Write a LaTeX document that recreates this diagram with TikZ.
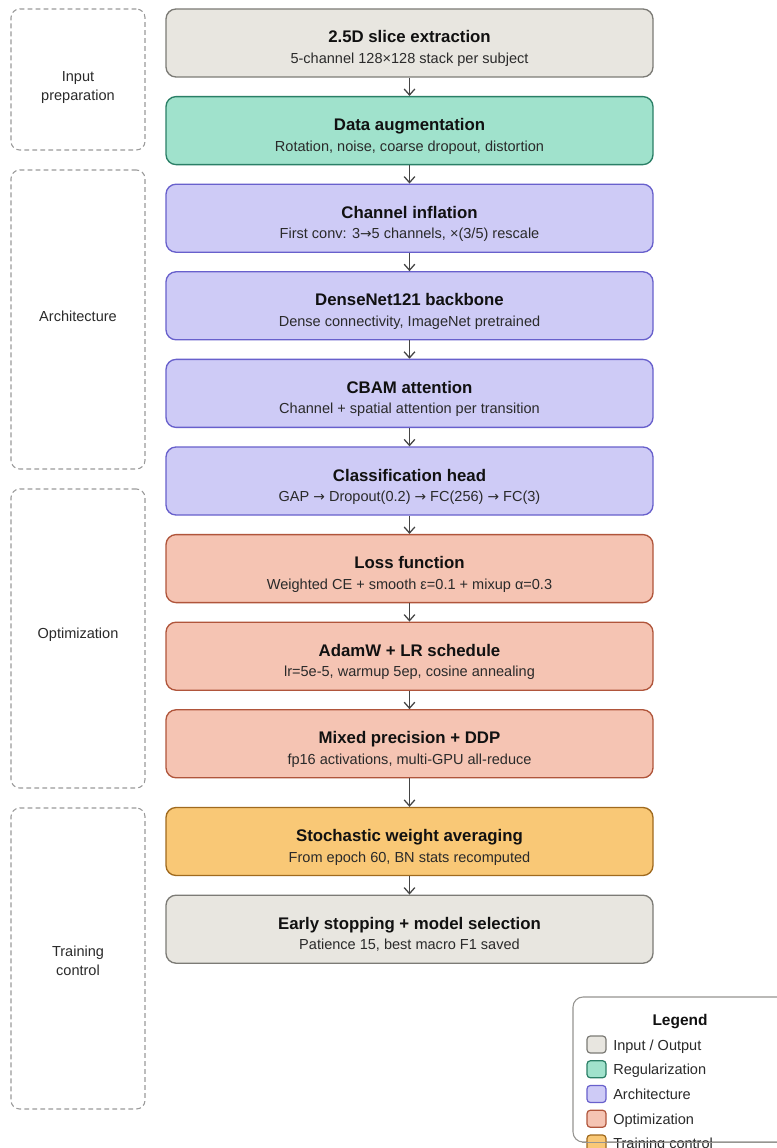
\documentclass[tikz,border=0pt]{standalone}
\usepackage{fontspec}
\setmainfont{Liberation Sans}
\newfontfamily\arrowfont{DejaVu Sans}[Scale=0.95]
\newcommand{\rarr}{{\arrowfont →}}
\usetikzlibrary{arrows.meta}
\definecolor{ioFill}{HTML}{E8E6E0}
\definecolor{ioDraw}{HTML}{7C7B76}
\definecolor{regFill}{HTML}{A0E2CC}
\definecolor{regDraw}{HTML}{2A7F66}
\definecolor{archFill}{HTML}{CECBF6}
\definecolor{archDraw}{HTML}{6860CC}
\definecolor{optFill}{HTML}{F5C4B3}
\definecolor{optDraw}{HTML}{B0553B}
\definecolor{trFill}{HTML}{F9C876}
\definecolor{trDraw}{HTML}{A06A1E}
\definecolor{arrowCol}{HTML}{444444}
\definecolor{grpCol}{HTML}{9A9A9A}
\definecolor{ttlCol}{HTML}{111111}
\definecolor{subCol}{HTML}{2A2A2A}
\tikzset{
  stagebox/.style={draw, rounded corners=7.5pt, line width=1pt,
    minimum width=365.25pt, minimum height=51pt, inner sep=0pt},
  io/.style={stagebox, fill=ioFill, draw=ioDraw},
  reg/.style={stagebox, fill=regFill, draw=regDraw},
  arch/.style={stagebox, fill=archFill, draw=archDraw},
  opt/.style={stagebox, fill=optFill, draw=optDraw},
  trn/.style={stagebox, fill=trFill, draw=trDraw},
  ttl/.style={anchor=base, inner sep=0pt, text=ttlCol, font=\fontsize{12.6pt}{14pt}\selectfont\bfseries},
  sub/.style={anchor=base, inner sep=0pt, text=subCol, font=\fontsize{10.9pt}{13pt}\selectfont},
  arr/.style={draw=arrowCol, line width=0.95pt, -{Straight Barb[length=4.5pt,width=8pt,line width=0.95pt]}},
  grp/.style={draw=grpCol, dashed, dash pattern=on 3.6pt off 2.4pt, line width=0.8pt, rounded corners=6.5pt,
    minimum width=100.5pt, inner sep=0pt},
  grplabel/.style={align=center, inner sep=0pt, text=subCol, font=\fontsize{10.9pt}{14.6pt}\selectfont},
  legbox/.style={draw=ioDraw!80, fill=white, line width=0.8pt, rounded corners=7.5pt, inner sep=0pt},
  swatch/.style={draw, line width=0.9pt, rounded corners=2.5pt, minimum width=14.25pt, minimum height=12.75pt, inner sep=0pt},
  legtext/.style={anchor=base west, inner sep=0pt, text=subCol, font=\fontsize{10.9pt}{13pt}\selectfont},
}
\begin{document}
\begin{tikzpicture}[x=0.75pt,y=-0.75pt]
\clip (0,0) rectangle (777,1148);
\fill[white] (0,0) rectangle (777,1148);

% group boxes
\node[grp, minimum height=105.75pt] (g1) at (78,79.5) {};
\node[grp, minimum height=224.25pt] (g2) at (78,319.5) {};
\node[grp, minimum height=224.25pt] (g3) at (78,638.5) {};
\node[grp, minimum height=225.75pt] (g4) at (78,958.5) {};
\node[grplabel] (l1) at (78,87.5) {Input\\preparation};
\node[grplabel] (l2) at (78,316) {Architecture};
\node[grplabel] (l3) at (78,635) {Optimization};
\node[grplabel] (l4) at (78,961) {Training\\control};

% stages
\node[io]   (b1)  at (409.5,43)    {};
\node[reg]  (b2)  at (409.5,130.6) {};
\node[arch] (b3)  at (409.5,218.2) {};
\node[arch] (b4)  at (409.5,305.8) {};
\node[arch] (b5)  at (409.5,393.4) {};
\node[arch] (b6)  at (409.5,481)   {};
\node[opt]  (b7)  at (409.5,568.6) {};
\node[opt]  (b8)  at (409.5,656.2) {};
\node[opt]  (b9)  at (409.5,743.8) {};
\node[trn]  (b10) at (409.5,841.5) {};
\node[io]   (b11) at (409.5,929.2) {};

\node[ttl] (t1) at (409.5,43)    {2.5D slice extraction};
\node[sub] (s1) at (409.5,63.5)  {5-channel 128×128 stack per subject};
\node[ttl] (t2) at (409.5,130.6) {Data augmentation};
\node[sub] (s2) at (409.5,151.1) {Rotation, noise, coarse dropout, distortion};
\node[ttl] (t3) at (409.5,218.2) {Channel inflation};
\node[sub] (s3) at (409.5,238.7) {First conv: 3\rarr5 channels, ×(3/5) rescale};
\node[ttl] (t4) at (409.5,305.8) {DenseNet121 backbone};
\node[sub] (s4) at (409.5,326.3) {Dense connectivity, ImageNet pretrained};
\node[ttl] (t5) at (409.5,393.4) {CBAM attention};
\node[sub] (s5) at (409.5,413.9) {Channel + spatial attention per transition};
\node[ttl] (t6) at (409.5,481)   {Classification head};
\node[sub] (s6) at (409.5,501.5) {GAP \rarr{} Dropout(0.2) \rarr{} FC(256) \rarr{} FC(3)};
\node[ttl] (t7) at (409.5,568.6) {Loss function};
\node[sub] (s7) at (409.5,589.1) {Weighted CE + smooth ε=0.1 + mixup α=0.3};
\node[ttl] (t8) at (409.5,656.2) {AdamW + LR schedule};
\node[sub] (s8) at (409.5,676.7) {lr=5e-5, warmup 5ep, cosine annealing};
\node[ttl] (t9) at (409.5,743.8) {Mixed precision + DDP};
\node[sub] (s9) at (409.5,764.3) {fp16 activations, multi-GPU all-reduce};
\node[ttl] (t10) at (409.5,841.5) {Stochastic weight averaging};
\node[sub] (s10) at (409.5,862)  {From epoch 60, BN stats recomputed};
\node[ttl] (t11) at (409.5,929.2) {Early stopping + model selection};
\node[sub] (s11) at (409.5,949.7) {Patience 15, best macro F1 saved};

% connectors
\draw[arr] (b1.south) -- (b2.north);
\draw[arr] (b2.south) -- (b3.north);
\draw[arr] (b3.south) -- (b4.north);
\draw[arr] (b4.south) -- (b5.north);
\draw[arr] (b5.south) -- (b6.north);
\draw[arr] (b6.south) -- (b7.north);
\draw[arr] (b7.south) -- (b8.north);
\draw[arr] (b8.south) -- (b9.north);
\draw[arr] (b9.south) -- (b10.north);
\draw[arr] (b10.south) -- (b11.north);

% legend
\node[legbox, minimum width=170.25pt, minimum height=108.75pt] (leg) at (686.5,1069.5) {};
\node[anchor=base, inner sep=0pt, text=ttlCol, font=\fontsize{11.6pt}{14pt}\selectfont\bfseries] (legt) at (680,1025) {Legend};
\node[swatch, fill=ioFill, draw=ioDraw]     (w1) at (596.5,1044.5) {};
\node[swatch, fill=regFill, draw=regDraw]   (w2) at (596.5,1069.25) {};
\node[swatch, fill=archFill, draw=archDraw] (w3) at (596.5,1094) {};
\node[swatch, fill=optFill, draw=optDraw]   (w4) at (596.5,1118.75) {};
\node[swatch, fill=trFill, draw=trDraw]     (w5) at (596.5,1143.5) {};
\node[legtext] (e1) at (613,1050)    {Input / Output};
\node[legtext] (e2) at (613,1074.75) {Regularization};
\node[legtext] (e3) at (613,1099.5)  {Architecture};
\node[legtext] (e4) at (613,1124.25) {Optimization};
\node[legtext] (e5) at (613,1148)    {Training control};
\draw[draw=ioDraw!80, line width=0.8pt] (leg.south west) ++(10,0) -- (leg.south east);
\end{tikzpicture}
\end{document}
